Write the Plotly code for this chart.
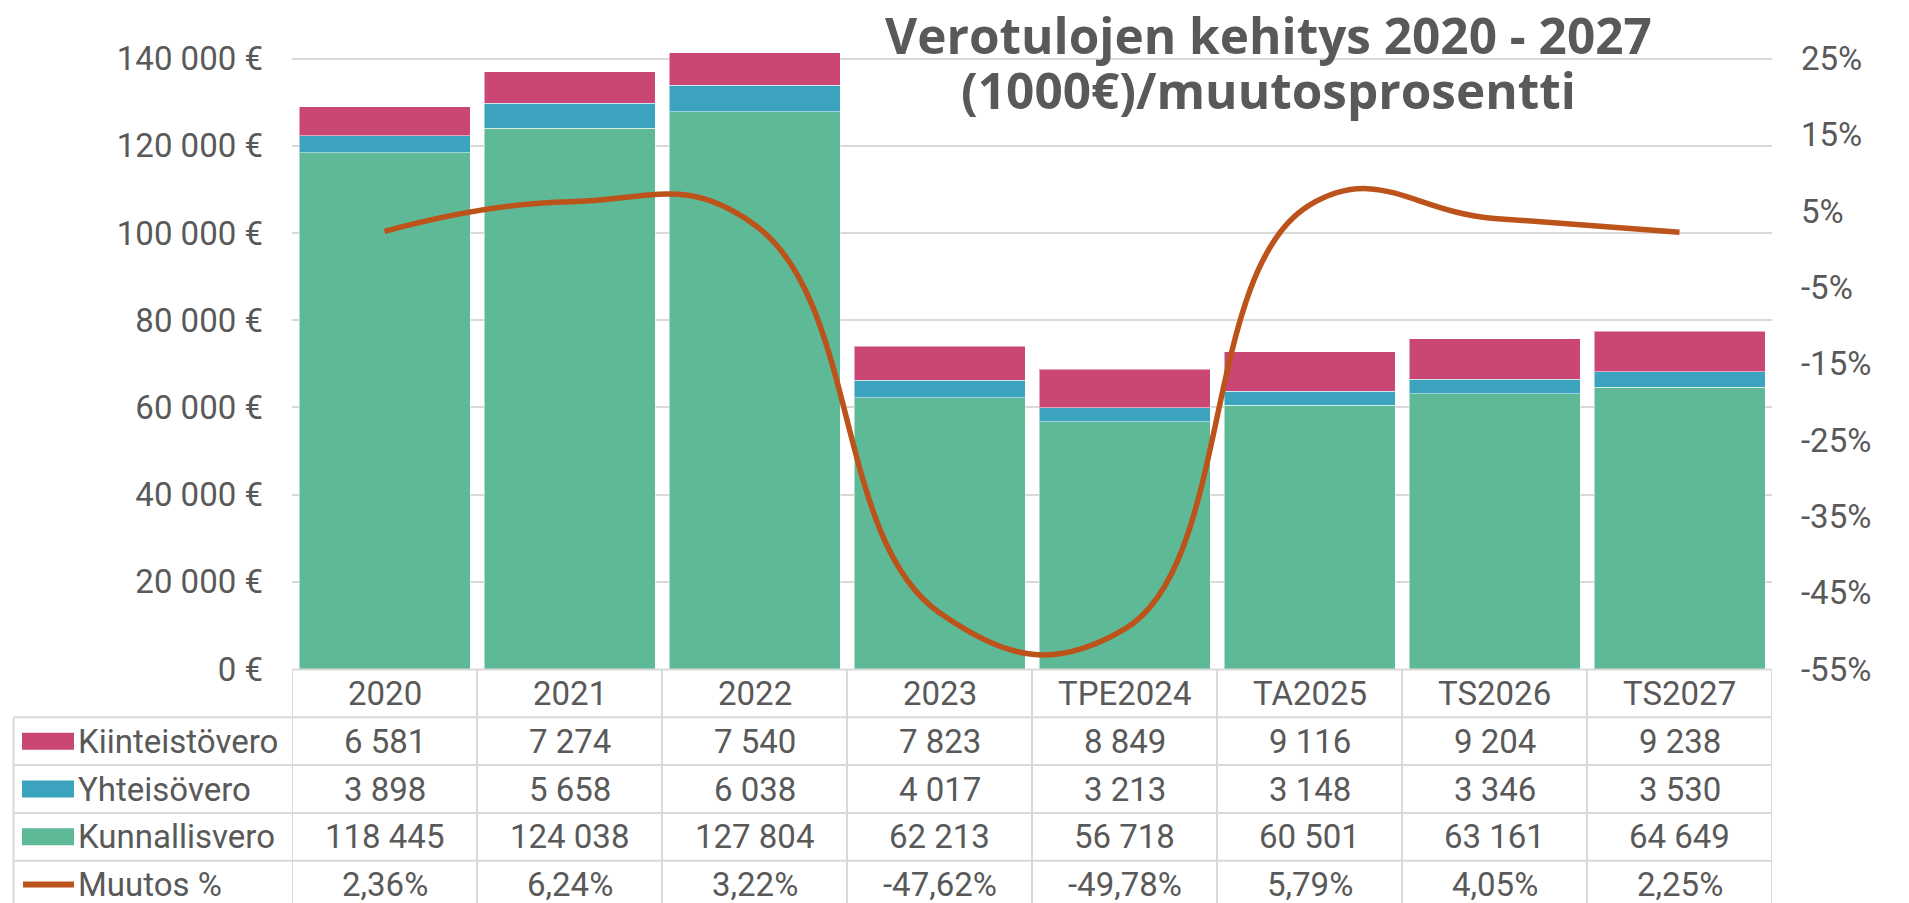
import plotly.graph_objects as go

# ---------------- data ----------------
categories = ["2020", "2021", "2022", "2023", "TPE2024", "TA2025", "TS2026", "TS2027"]
kiinteistovero = [6581, 7274, 7540, 7823, 8849, 9116, 9204, 9238]
yhteisovero = [3898, 5658, 6038, 4017, 3213, 3148, 3346, 3530]
kunnallisvero = [118445, 124038, 127804, 62213, 56718, 60501, 63161, 64649]
muutos_pct = [2.36, 6.24, 3.22, -47.62, -49.78, 5.79, 4.05, 2.25]

y_ticks = [0, 20000, 40000, 60000, 80000, 100000, 120000, 140000]
y2_ticks = [-55, -45, -35, -25, -15, -5, 5, 15, 25]

title_lines = ["Verotulojen kehitys 2020 - 2027", "(1000€)/muutosprosentti"]

# ---------------- style ----------------
W, H = 1909, 903
L, R, T, B = 292, 1772, 52, 669
FONT = "Roboto"
TFONT = "Open Sans"
FS = 33
TXT = "#595959"
GRID = "#D9D9D9"
C_KIINT = "#C94675"
C_YHT = "#3BA3BD"
C_KUNN = "#5DB996"
C_LINE = "#BC531B"

Y_MAX = 140000
Y_TOP = 141500
Y2_MIN, Y2_MAX = -55, 25
y2_top = Y2_MIN + (Y2_MAX - Y2_MIN) * Y_TOP / Y_MAX


def fmt_int(v):
    return f"{v:,}".replace(",", " ")


def fmt_pct(v):
    return f"{v:.2f}".replace(".", ",") + "%"


def py(p):
    return (B - p) / (B - T)


def px(p):
    return (p - L) / (R - L)


bar_line = dict(color="rgba(255,255,255,0.5)", width=1)
fig = go.Figure()
fig.add_trace(go.Bar(x=categories, y=kunnallisvero, name="Kunnallisvero",
                     marker=dict(color=C_KUNN, line=bar_line)))
fig.add_trace(go.Bar(x=categories, y=yhteisovero, name="Yhteisövero",
                     marker=dict(color=C_YHT, line=bar_line)))
fig.add_trace(go.Bar(x=categories, y=kiinteistovero, name="Kiinteistövero",
                     marker=dict(color=C_KIINT, line=bar_line)))
fig.add_trace(go.Scatter(x=categories, y=muutos_pct, name="Muutos %", yaxis="y2",
                         mode="lines", line=dict(color=C_LINE, width=5.5, shape="spline", smoothing=1.3)))

# ---------------- table ----------------
ROW_H = 47.8
row_top = 669.5
bounds = [row_top + k * ROW_H for k in range(6)]
centers = [(bounds[k] + bounds[k + 1]) / 2 for k in range(5)]
LEG_X0 = 13.5

shapes = []
line_style = dict(color=GRID, width=2)
shapes.append(dict(type="line", xref="paper", yref="paper", x0=0, x1=1,
                   y0=py(bounds[0]), y1=py(bounds[0]), line=line_style, layer="above"))
for k in range(1, 6):
    shapes.append(dict(type="line", xref="paper", yref="paper", x0=px(LEG_X0), x1=1,
                       y0=py(bounds[k]), y1=py(bounds[k]), line=line_style))
for i in range(len(categories) + 1):
    shapes.append(dict(type="line", xref="x", yref="paper", x0=i - 0.5, x1=i - 0.5,
                       y0=py(bounds[0]), y1=py(bounds[5]), line=line_style))
shapes.append(dict(type="line", xref="paper", yref="paper", x0=px(LEG_X0), x1=px(LEG_X0),
                   y0=py(bounds[1]), y1=py(bounds[5]), line=line_style))

annotations = []
tfont = dict(family=FONT, size=FS, color=TXT)
for i, c in enumerate(categories):
    annotations.append(dict(x=i, xref="x", y=py(centers[0]), yref="paper", text=c,
                            showarrow=False, font=tfont, xanchor="center", yanchor="middle"))

rows = [
    ("Kiinteistövero", C_KIINT, [fmt_int(v) for v in kiinteistovero], "rect"),
    ("Yhteisövero", C_YHT, [fmt_int(v) for v in yhteisovero], "rect"),
    ("Kunnallisvero", C_KUNN, [fmt_int(v) for v in kunnallisvero], "rect"),
    ("Muutos %", C_LINE, [fmt_pct(v) for v in muutos_pct], "line"),
]
for r, (label, color, texts, kind) in enumerate(rows):
    cy = centers[r + 1]
    for i in range(len(categories)):
        annotations.append(dict(x=i, xref="x", y=py(cy), yref="paper", text=texts[i],
                                showarrow=False, font=tfont, xanchor="center", yanchor="middle"))
    annotations.append(dict(x=px(76), xref="paper", y=py(cy), yref="paper", text=label,
                            showarrow=False, font=tfont, xanchor="left", yanchor="middle"))
    if kind == "rect":
        shapes.append(dict(type="rect", xref="paper", yref="paper", x0=px(22), x1=px(74),
                           y0=py(cy + 8.5), y1=py(cy - 8.5), fillcolor=color, line=dict(width=0)))
    else:
        shapes.append(dict(type="line", xref="paper", yref="paper", x0=px(23), x1=px(74),
                           y0=py(cy), y1=py(cy), line=dict(color=color, width=6)))

# ---------------- title ----------------
TS = 49.5
title_font = dict(family=TFONT, size=TS, color=TXT)
annotations.append(dict(x=px(1268), xref="paper", y=py(0), yref="paper",
                        text=f"<b>{title_lines[0]}</b>", showarrow=False, font=title_font,
                        xanchor="center", yanchor="top", borderpad=0))
annotations.append(dict(x=px(1268), xref="paper", y=py(109 - 0.388 * TS), yref="paper",
                        text=f"<b>{title_lines[1]}</b>", showarrow=False, font=title_font,
                        xanchor="center", yanchor="middle", borderpad=0))

fig.update_layout(
    width=W, height=H,
    margin=dict(l=L, r=W - R, t=T, b=H - B, pad=0, autoexpand=False),
    paper_bgcolor="white", plot_bgcolor="white",
    barmode="stack", bargap=0.0757,
    showlegend=False,
    font=dict(family=FONT, color=TXT),
    xaxis=dict(type="category", range=[-0.5, len(categories) - 0.5], showticklabels=False,
               showgrid=False, zeroline=False, showline=False, ticks="", automargin=False),
    yaxis=dict(range=[0, Y_TOP], tickvals=y_ticks, ticktext=[fmt_int(v) + " €" for v in y_ticks],
               showgrid=True, gridcolor=GRID, gridwidth=2, zeroline=False, showline=False,
               ticks="", ticklabelstandoff=28, automargin=False,
               tickfont=dict(family=FONT, size=FS, color=TXT)),
    yaxis2=dict(overlaying="y", side="right", range=[Y2_MIN, y2_top], tickvals=y2_ticks,
                ticktext=[f"{v}%" for v in y2_ticks], showgrid=False, zeroline=False,
                showline=False, ticks="", ticklabelstandoff=28, automargin=False,
                tickfont=dict(family=FONT, size=FS, color=TXT)),
    shapes=shapes,
    annotations=annotations,
)

fig.write_html("out.html", config={"displayModeBar": False},
               post_script="document.body.style.margin='0';document.body.style.overflow='hidden';")
